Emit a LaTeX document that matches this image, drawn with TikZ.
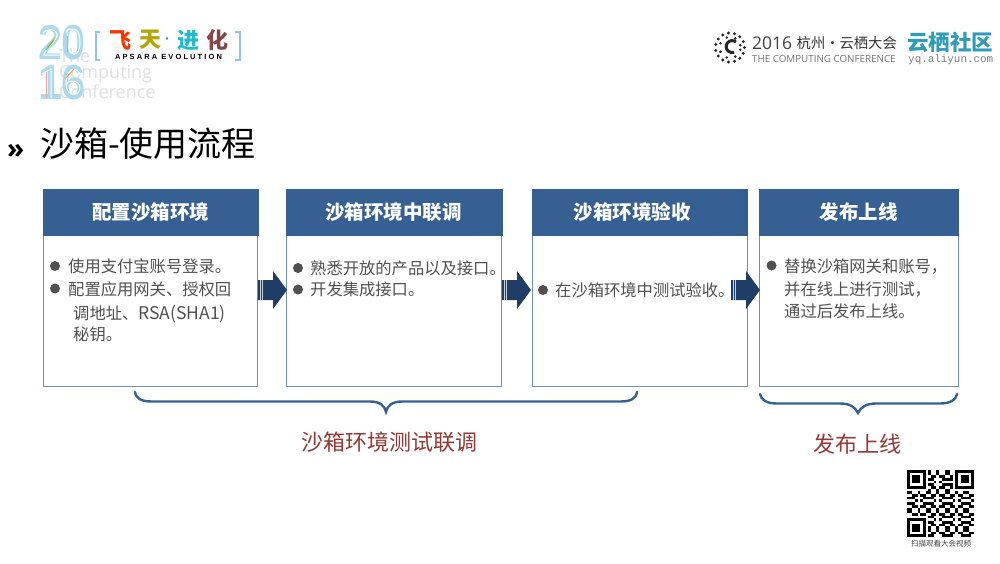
\documentclass[tikz,border=0pt]{standalone}
\usepackage{fontspec}
\setmainfont{Noto Sans CJK SC}
\newfontfamily\latinf{Open Sans}
\newfontfamily\digf{Liberation Sans}
\newfontfamily\monof{Liberation Mono}
\newfontfamily\apsf[LetterSpace=28]{Liberation Sans}
\usetikzlibrary{calc}
\definecolor{hdr}{HTML}{366092}
\definecolor{bd}{HTML}{6C8EBC}
\definecolor{arr}{HTML}{1F3D66}
\definecolor{brace}{HTML}{366092}
\definecolor{red1}{HTML}{953735}
\definecolor{txt}{HTML}{505050}
\definecolor{blt}{HTML}{505050}
\definecolor{teal1}{HTML}{2E9CB8}
\definecolor{lblue}{HTML}{A9DAEE}
\tikzset{
  x=1pt,y=-1pt,
  hdrbox/.style={draw=hdr,fill=hdr,anchor=north west,inner sep=0pt,text=white,font=\fontsize{19.5}{22}\selectfont\bfseries,align=center},
  bodybox/.style={draw=bd,line width=1.1pt,fill=white,anchor=north west,inner sep=0pt},
  item/.style={anchor=north west,inner sep=0pt,text=txt,font=\fontsize{16.3}{24}\selectfont,align=left},
  bulletdot/.style={circle,fill=blt,inner sep=0pt,minimum size=10pt},
  bracepath/.style={draw=brace,line width=2.4pt,line cap=round},
  grp/.style={text=red1,font=\fontsize{22}{25}\selectfont,inner sep=0pt},
  logotxt/.style={inner sep=0pt,font=\fontsize{22}{24}\selectfont\bfseries},
  faint/.style={inner sep=0pt,anchor=west,text=black!12,font=\latinf\fontsize{18}{20}\selectfont},
  yeartxt/.style={inner sep=0pt,text=lblue,font=\digf\fontsize{49}{50}\selectfont\bfseries},
  inline/.style={draw=white,line width=1pt},
}
\newcommand{\flowarr}[2]{%
  \fill[arr] (#1,#2-10) -- (#1+15,#2-10) -- (#1+15,#2-19) -- (#1+29,#2) -- (#1+15,#2+19) -- (#1+15,#2+10) -- (#1,#2+10) -- cycle;
  \fill[white!75!arr] (#1+1.8,#2-10) rectangle (#1+2.6,#2+10);
  \fill[white!75!arr] (#1+4,#2-10) rectangle (#1+4.8,#2+10);
}
\begin{document}
\begin{tikzpicture}
\useasboundingbox (0,0) rectangle (1000,563);
\fill[white] (0,0) rectangle (1000,563);

% left logo
\node[faint] (the) at (59,56) {The};
\node[faint] (cmp) at (59,74) {Computing};
\node[faint] (cnf) at (59,92) {Conference};
\node[yeartxt] (yr1) at (62,43) {\scalebox{.88}[1]{20}};
\node[yeartxt] (yr2) at (62,83) {\scalebox{.88}[1]{16}};
% inline stripes over the year digits
\draw[inline] (43,34) .. controls (45,28) and (57,28) .. (57,35) .. controls (57,41) and (45,48) .. (44,55) -- (60,55);
\draw[inline] (74,29) .. controls (63,29) and (68,29) .. (68,43) .. controls (68,58) and (80,58) .. (80,43) .. controls (80,29) and (74,29) .. (74,29);
\draw[inline] (42,74) -- (51,69) -- (51,98);
\draw[inline] (80,74) .. controls (76,66) and (66,68) .. (66,84) .. controls (66,97) and (80,97) .. (80,88) .. controls (80,79) and (66,79) .. (66,86);
\draw[orange!70,line width=1pt] (47,47) -- (55,38);
\draw[green!50!gray,line width=.8pt] (46,50) -- (54,40);
\draw[red!45,line width=1pt] (67,36) -- (67,52);
\draw[red!40,line width=1pt] (46,72) -- (46,98);
\draw[orange!70,line width=1pt] (66,78) -- (74,69);
\draw[lblue!75!teal1,line width=1.8pt] (100,32) -| (96,60) -- (100,60);
\draw[lblue!75!teal1,line width=1.8pt] (235,32) -| (240,60) -- (235,60);
\node[logotxt,text=red!60!orange] (f1) at (120,40) {飞};
\node[logotxt,text=orange!70!green] (f2) at (150,40) {天};
\node[inner sep=0pt,font=\fontsize{12}{14}\selectfont,text=teal1] (f0) at (167,41) {·};
\node[logotxt,text=teal1!70!cyan] (f3) at (188,40) {进};
\node[logotxt,text=red1!85!teal1] (f4) at (217,40) {化};
\node[inner sep=0pt,font=\apsf\fontsize{7.5}{8}\selectfont\bfseries,text=black] (aps) at (168.5,57) {APSARA EVOLUTION};

% right logo
\foreach \a in {0,24,...,336}
  \fill[black!85] ($(730,47.5)+(\a:14.5)$) circle (1.6);
\foreach \a in {12,60,...,350}
  \fill[black!85] ($(730,47.5)+(\a:10.5)$) circle (1.4);
\draw[black!85,line width=3pt] (736,42) arc (-50:-290:6);
\node[inner sep=0pt,anchor=west,text=black!75,font=\latinf\fontsize{17.5}{18}\selectfont] (l1) at (752,43) {2016};
\node[inner sep=0pt,anchor=west,text=black!80,font=\fontsize{14.3}{16}\selectfont] (l2) at (796.5,43) {杭州·云栖大会};
\node[inner sep=0pt,anchor=west,text=black!55,font=\latinf\fontsize{9.8}{11}\selectfont] (l3) at (752,58.5) {THE COMPUTING CONFERENCE};
\node[inner sep=0pt,anchor=west,text=teal1,font=\fontsize{21.5}{23}\selectfont\bfseries] (l4) at (907,42) {云栖社区};
\node[inner sep=0pt,anchor=west,text=black!50,font=\monof\fontsize{10.9}{12}\selectfont] (l5) at (908,60) {yq.aliyun.com};

% title
\node[inner sep=0pt,anchor=west,font=\latinf\fontsize{28}{30}\selectfont\bfseries] (mark) at (7,151) {»};
\node[inner sep=0pt,anchor=west,text=black,font=\fontsize{34}{36}\selectfont] (title) at (40,144) {沙箱-使用流程};

% boxes
\foreach \n/\x/\w in {a/43/214,b/286/215,c/532/214.5,d/759/198.5}{
  \node[bodybox,minimum width=\w pt,minimum height=174pt] (\n) at (\x,212) {};
}
\node[hdrbox,minimum width=215pt,minimum height=46pt] (ah) at (43,189) {配置沙箱环境};
\node[hdrbox,minimum width=216pt,minimum height=46pt] (bh) at (285.5,189) {沙箱环境中联调};
\node[hdrbox,minimum width=215pt,minimum height=46pt] (ch) at (532,189) {沙箱环境验收\hspace{15pt}};
\node[hdrbox,minimum width=199pt,minimum height=46pt] (dh) at (759,189) {发布上线};

% body a
\node[bulletdot] (a1) at (55,266) {};
\node[bulletdot] (a2) at (55,288.5) {};
\node[item] (at1) at (68,258) {使用支付宝账号登录。};
\node[item] (at2) at (68,281) {配置应用网关、授权回};
\node[item] (at3) at (73,304.5) {调地址、{\fontsize{17.5}{24}\selectfont RSA(SHA1)}};
\node[item] (at4) at (73,327) {秘钥。};
% body b
\node[bulletdot] (b1) at (298,268) {};
\node[bulletdot] (b2) at (298,289.5) {};
\node[item] (bt1) at (310,261) {熟悉开放的产品以及接口。};
\node[item] (bt2) at (310,282) {开发集成接口。};
% body c
\node[bulletdot] (c1) at (543,290) {};
\node[item] (ct1) at (555,282) {在沙箱环境中测试验收。};
% body d
\node[bulletdot] (d1) at (771.5,265.5) {};
\node[item] (dt1) at (784,258.5) {替换沙箱网关和账号，};
\node[item] (dt2) at (784,281.5) {并在线上进行测试，};
\node[item] (dt3) at (784,304) {通过后发布上线。};

% arrows
\flowarr{258}{290}
\flowarr{502}{290}
\flowarr{731}{290}

% braces
\draw[bracepath] (135,392) .. controls (136,399) and (142,401.5) .. (152,401.5) -- (370,401.5) .. controls (380,401.5) and (385,406) .. (386,412) .. controls (387,406) and (392,401.5) .. (402,401.5) -- (620,401.5) .. controls (630,401.5) and (636,399) .. (637,392);
\draw[bracepath] (760,394) .. controls (761,400) and (767,403.5) .. (777,403.5) -- (840,403.5) .. controls (850,403.5) and (855,407) .. (858,413) .. controls (861,407) and (866,403.5) .. (876,403.5) -- (940,403.5) .. controls (950,403.5) and (956,400) .. (957,394);
\node[grp] (g1) at (389,442) {沙箱环境测试联调};
\node[grp] (g2) at (857,444) {发布上线};

% QR
\begin{scope}[shift={(907,470)}]
  \pgfmathsetmacro{\m}{67/25}
  \foreach \i in {0,...,24}{
    \foreach \j in {0,...,24}{
      \pgfmathtruncatemacro{\skip}{(\i<8&&\j<8)||(\i>16&&\j<8)||(\i<8&&\j>16)?1:0}
      \pgfmathtruncatemacro{\on}{mod(\i*\i*3+\j*\j*5+\i*\j*7+\i*11+\j*2,7)<3?1:0}
      \ifnum\skip=0 \ifnum\on=1
        \fill[black] (\i*\m,\j*\m) rectangle ({(\i+1)*\m},{(\j+1)*\m});
      \fi\fi
    }
  }
  \foreach \x/\y in {0/0,18/0,0/18}{
    \draw[black,line width=2.7pt] ({(\x+.5)*\m},{(\y+.5)*\m}) rectangle ({(\x+6.5)*\m},{(\y+6.5)*\m});
    \fill[black] ({(\x+2)*\m},{(\y+2)*\m}) rectangle ({(\x+5)*\m},{(\y+5)*\m});
  }
\end{scope}
\node[inner sep=0pt,text=black!75,font=\fontsize{7.5}{8}\selectfont] (qrc) at (941,544) {扫描观看大会视频};
\end{tikzpicture}
\end{document}
